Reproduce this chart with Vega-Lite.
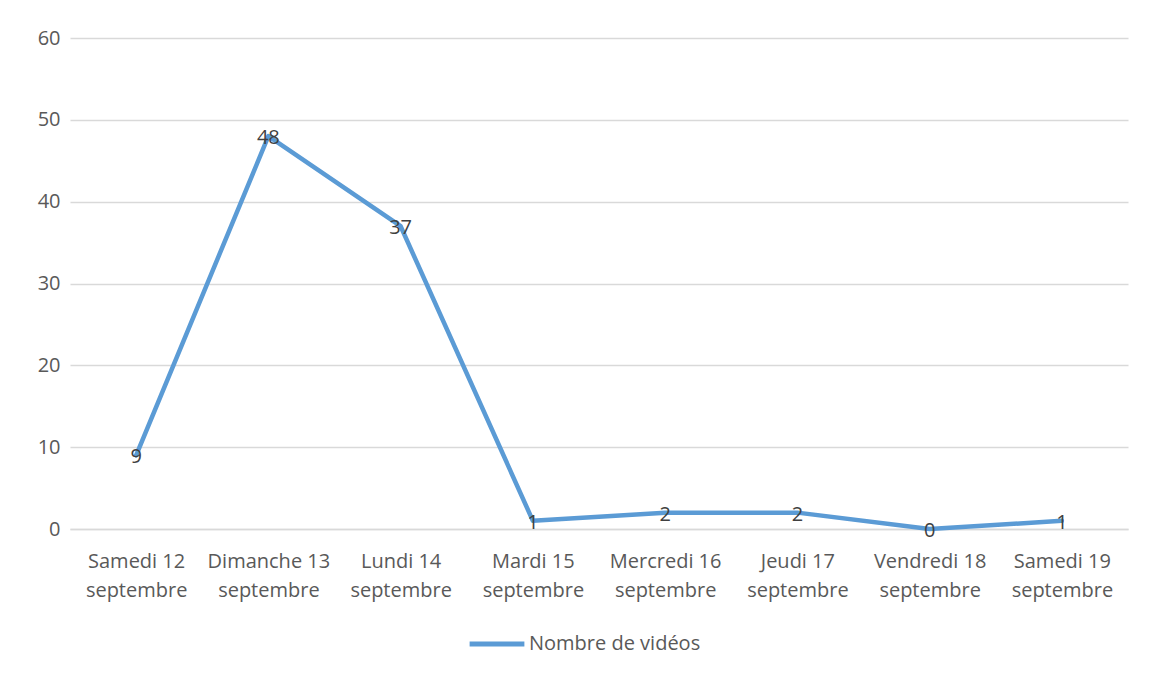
{
  "$schema": "https://vega.github.io/schema/vega-lite/v6.json",
  "width": 1058,
  "height": 491,
  "autosize": "none",
  "padding": {"left": 70, "top": 38, "right": 25, "bottom": 146},
  "background": "white",
  "config": {
    "view": {"stroke": null},
    "font": "Open Sans"
  },
  "data": {
    "values": [
      {"jour": "Samedi 12 septembre", "videos": 9, "serie": "Nombre de vidéos"},
      {"jour": "Dimanche 13 septembre", "videos": 48, "serie": "Nombre de vidéos"},
      {"jour": "Lundi 14 septembre", "videos": 37, "serie": "Nombre de vidéos"},
      {"jour": "Mardi 15 septembre", "videos": 1, "serie": "Nombre de vidéos"},
      {"jour": "Mercredi 16 septembre", "videos": 2, "serie": "Nombre de vidéos"},
      {"jour": "Jeudi 17 septembre", "videos": 2, "serie": "Nombre de vidéos"},
      {"jour": "Vendredi 18 septembre", "videos": 0, "serie": "Nombre de vidéos"},
      {"jour": "Samedi 19 septembre", "videos": 1, "serie": "Nombre de vidéos"}
    ]
  },
  "encoding": {
    "x": {
      "field": "jour",
      "type": "nominal",
      "sort": null,
      "scale": {"paddingInner": 0, "paddingOuter": 0},
      "axis": {
        "title": null,
        "labelAngle": 0,
        "ticks": false,
        "domainColor": "#d9d9d9",
        "domainWidth": 1.5,
        "labelColor": "#595959",
        "labelFontSize": 20,
        "labelFont": "Open Sans",
        "labelPadding": 32,
        "labelLineHeight": 29,
        "labelBaseline": "middle",
        "labelExpr": "[slice(datum.label, 0, lastindexof(datum.label, ' ')), slice(datum.label, lastindexof(datum.label, ' ') + 1)]"
      }
    },
    "y": {
      "field": "videos",
      "type": "quantitative",
      "scale": {"domain": [0, 60], "nice": false},
      "axis": {
        "title": null,
        "values": [0, 10, 20, 30, 40, 50, 60],
        "domain": false,
        "ticks": false,
        "gridColor": "#d9d9d9",
        "gridWidth": 1.5,
        "labelColor": "#595959",
        "labelFontSize": 20,
        "labelFont": "Open Sans",
        "labelPadding": 10
      }
    }
  },
  "layer": [
    {
      "mark": {"type": "line", "strokeWidth": 4.5, "strokeCap": "round", "strokeJoin": "round"},
      "encoding": {
        "color": {
          "field": "serie",
          "type": "nominal",
          "scale": {"range": ["#5b9bd5"]},
          "legend": {
            "title": null,
            "orient": "none",
            "legendX": 397,
            "legendY": 576,
            "direction": "horizontal",
            "symbolType": "stroke",
            "symbolSize": 3000,
            "symbolStrokeWidth": 5,
            "labelFontSize": 20,
            "labelColor": "#595959",
            "labelFont": "Open Sans",
            "labelLimit": 400,
            "labelOffset": 2
          }
        }
      }
    },
    {
      "mark": {"type": "text", "fontSize": 20, "color": "#404040", "font": "Open Sans", "baseline": "middle", "dy": 2},
      "encoding": {
        "text": {"field": "videos", "type": "quantitative"}
      }
    }
  ]
}
